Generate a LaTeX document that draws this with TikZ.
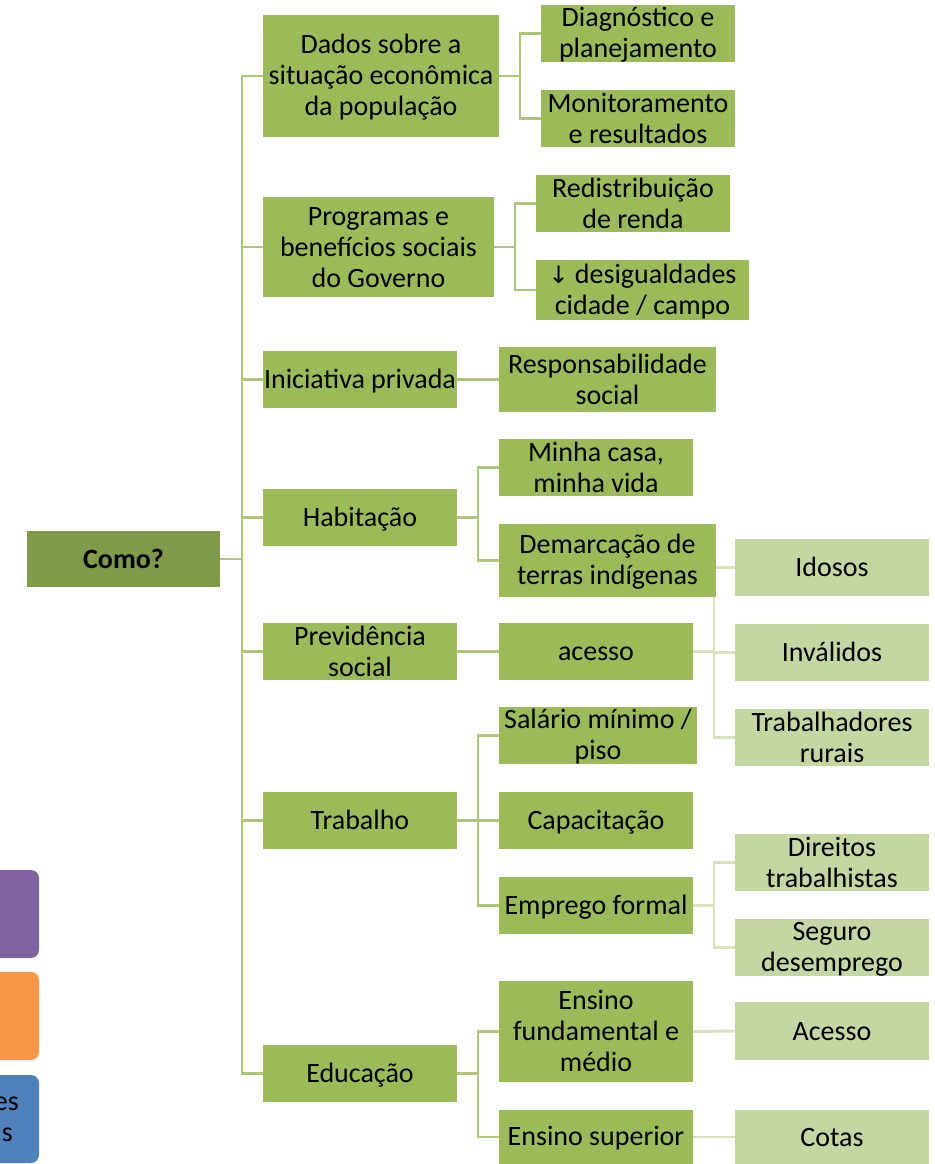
\documentclass[tikz,border=0pt]{standalone}
\usepackage{fontspec}
\setmainfont{Carlito}
\newfontfamily\symfont{DejaVu Sans}
\definecolor{cDark}{RGB}{127,154,72}
\definecolor{cMid}{RGB}{155,187,89}
\definecolor{cLight}{RGB}{196,214,161}
\definecolor{lnMid}{RGB}{172,198,122}
\definecolor{lnLight}{RGB}{215,228,190}
\definecolor{cPurple}{RGB}{128,100,162}
\definecolor{cOrange}{RGB}{247,150,70}
\definecolor{cBlue}{RGB}{79,129,189}
\newcommand{\mystrut}{\rule[-2.5pt]{0pt}{19pt}}
\tikzset{
  bxbase/.style={inner sep=0pt, align=center, font=\fontsize{21}{23.3}\selectfont, text=black},
  lvlzero/.style={bxbase, fill=cDark, font=\fontsize{21}{23.3}\selectfont\bfseries},
  lvlone/.style={bxbase, fill=cMid},
  lvlthree/.style={bxbase, fill=cLight},
  cone/.style={draw=lnMid, line width=2.2pt},
  cthree/.style={draw=lnLight, line width=2.2pt},
}
\newcommand{\bx}[7]{\node[#2, minimum width={(#5-#3)*0.75pt}, minimum height={(#6-#4)*0.75pt}] (#1) at ({(#3+#5)/2},{(#4+#6)/2}) {\mystrut #7\mystrut};}
\begin{document}
\begin{tikzpicture}[x=0.75pt,y=-0.75pt]
\useasboundingbox (0,0) rectangle (935,1164);
% partial boxes on the left
\begin{scope}
\clip (0,0) rectangle (935,1164);
\fill[cPurple, rounded corners=6pt] (-60,870) rectangle (39,958);
\fill[cOrange, rounded corners=6pt] (-60,972) rectangle (39,1060);
\fill[cBlue, rounded corners=6pt] (-60,1075) rectangle (39,1163);
\node[bxbase, anchor=east] (bluea) at (19,1104) {es};
\node[bxbase, anchor=east] (blueb) at (13,1135) {s};
\end{scope}
% junction coordinates
\coordinate (trunk) at (242,559);
\coordinate (jdados) at (520,76);
\coordinate (jprog) at (515,247);
\coordinate (jhab) at (478,517.5);
\coordinate (jac) at (714,651.5);
\coordinate (jtrab) at (478,820.5);
\coordinate (jemp) at (714,905.5);
\coordinate (jedu) at (478,1073.5);
% level 3 connectors (behind boxes)
\bx{acesso}{lvlone}{499}{623}{693}{680}{acesso}
\draw[cthree] (acesso.east) -- (jac);
\draw[cthree] (jac) |- (735,567.5) coordinate (idosoin);
\draw[cthree] (jac) |- (735,652.5) coordinate (invin);
\draw[cthree] (jac) |- (735,737.5) coordinate (ruralin);
% nodes
\bx{como}{lvlzero}{27}{531}{220}{587}{Como?}
\bx{dados}{lvlone}{263}{15}{499}{137}{Dados sobre a\\situação econômica\\da população}
\bx{prog}{lvlone}{263}{197}{494}{297}{Programas e\\benefícios sociais\\do Governo}
\bx{inic}{lvlone}{263}{351}{457}{408}{Iniciativa privada}
\bx{hab}{lvlone}{263}{489}{457}{546}{Habitação}
\bx{prev}{lvlone}{263}{623}{457}{680}{Previdência\\social}
\bx{trab}{lvlone}{263}{792}{457}{849}{Trabalho}
\bx{edu}{lvlone}{263}{1045}{457}{1102}{Educação}
\bx{diag}{lvlone}{541}{5}{735}{62}{Diagnóstico e\\planejamento}
\bx{monit}{lvlone}{541}{90}{735}{147}{Monitoramento\\e resultados}
\bx{redis}{lvlone}{536}{175}{730}{232}{Redistribuição\\de renda}
\bx{desig}{lvlone}{536}{260}{749}{320}{{\symfont\fontsize{18}{23.3}\selectfont ↓} desigualdades\\cidade / campo}
\bx{resp}{lvlone}{499}{347}{716}{412}{Responsabilidade\\social}
\bx{minha}{lvlone}{499}{439}{693}{496}{Minha casa,\\minha vida}
\bx{demarc}{lvlone}{499}{524}{716}{597}{Demarcação de\\terras indígenas}
\bx{sal}{lvlone}{499}{707}{697}{764}{Salário mínimo /\\piso}
\bx{capac}{lvlone}{499}{792}{693}{849}{Capacitação}
\bx{emp}{lvlone}{499}{877}{693}{934}{Emprego formal}
\bx{ensf}{lvlone}{499}{981}{693}{1082}{Ensino\\fundamental e\\médio}
\bx{enss}{lvlone}{499}{1110}{693}{1164}{Ensino superior}
\bx{idosos}{lvlthree}{735}{539}{929}{596}{Idosos}
\bx{inval}{lvlthree}{735}{624}{929}{681}{Inválidos}
\bx{rurais}{lvlthree}{735}{709}{929}{766}{Trabalhadores\\rurais}
\bx{dir}{lvlthree}{735}{834}{929}{891}{Direitos\\trabalhistas}
\bx{seg}{lvlthree}{735}{919}{929}{976}{Seguro\\desemprego}
\bx{acc}{lvlthree}{735}{1002}{929}{1060}{Acesso}
\bx{cotas}{lvlthree}{735}{1110}{929}{1164}{Cotas}
% main trunk
\draw[cone] (como.east) -- (trunk);
\foreach \n in {dados,prog,inic,hab,prev,trab,edu}{\draw[cone] (trunk) |- (\n.west);}
% level 2 connectors
\draw[cone] (dados.east) -- (jdados);
\draw[cone] (jdados) |- (diag.west);
\draw[cone] (jdados) |- (monit.west);
\draw[cone] (prog.east) -- (jprog);
\draw[cone] (jprog) |- (redis.west);
\draw[cone] (jprog) |- (desig.west);
\draw[cone] (inic.east) -- (resp.west);
\draw[cone] (hab.east) -- (jhab);
\draw[cone] (jhab) |- (minha.west);
\draw[cone] (jhab) |- (demarc.west);
\draw[cone] (prev.east) -- (acesso.west);
\draw[cone] (trab.east) -- (jtrab);
\draw[cone] (jtrab) |- (sal.west);
\draw[cone] (jtrab) |- (capac.west);
\draw[cone] (jtrab) |- (emp.west);
\draw[cone] (edu.east) -- (jedu);
\draw[cone] (jedu) |- (ensf.west);
\draw[cone] (jedu) |- (enss.west);
% level 3 connectors
\draw[cthree] (emp.east) -- (jemp);
\draw[cthree] (jemp) |- (dir.west);
\draw[cthree] (jemp) |- (seg.west);
\draw[cthree] (ensf.east) -- (acc.west);
\draw[cthree] (enss.east) -- (cotas.west);
\end{tikzpicture}
\end{document}
